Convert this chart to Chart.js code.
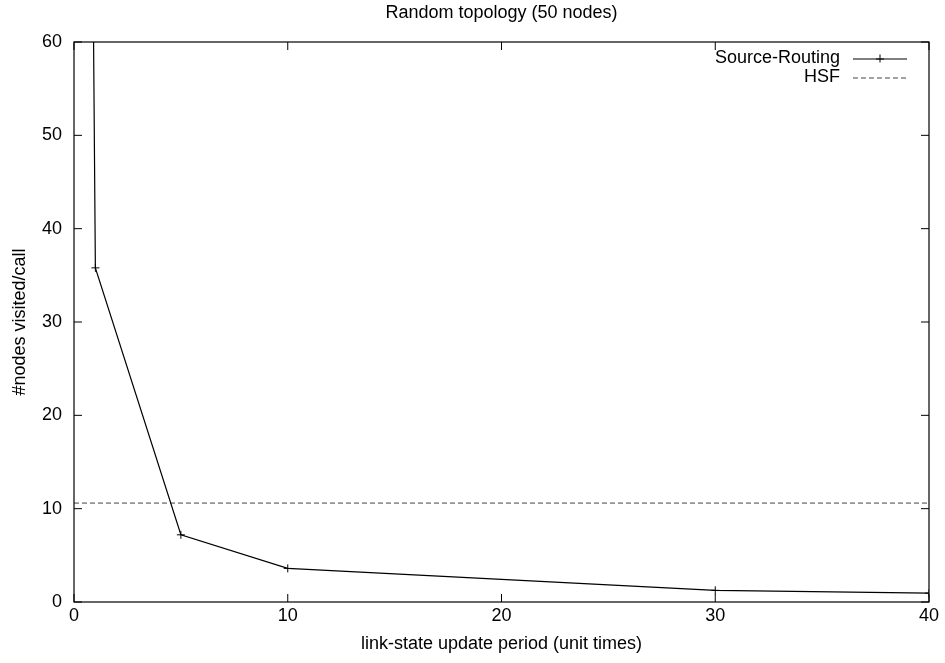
<!DOCTYPE html>
<html>
<head>
<meta charset="utf-8">
<script src="https://cdn.jsdelivr.net/npm/chart.js@4/dist/chart.umd.min.js"></script>
<style>
html,body{margin:0;padding:0;background:#fff;}
#wrap{width:945px;height:663px;}
</style>
</head>
<body>
<div id="wrap"><canvas id="c" width="945" height="663"></canvas></div>
<script>
const titleText = "Random topology (50 nodes)";
const xTitle = "link-state update period (unit times)";
const yTitle = "#nodes visited/call";
const updatePeriods = [0.5, 1, 5, 10, 30, 40];
const sourceRouting = [180, 35.8, 7.2, 3.6, 1.25, 0.95];
const hsfX = [0, 40];
const hsfY = [10.6, 10.6];
const xTicks = [0, 10, 20, 30, 40];
const yTicks = [0, 10, 20, 30, 40, 50, 60];

const FONT = "'Liberation Sans', Arial, Helvetica, sans-serif";
Chart.defaults.font.family = FONT;
Chart.defaults.font.size = 18;
Chart.defaults.color = '#000';

const framePlugin = {
  id: 'frame',
  afterDraw(chart) {
    const ctx = chart.ctx, a = chart.chartArea;
    const xs = chart.scales.x, ys = chart.scales.y;
    ctx.save();
    // title centred over the plot area
    ctx.font = "18px " + FONT;
    ctx.fillStyle = '#000';
    ctx.textAlign = 'center';
    ctx.textBaseline = 'middle';
    ctx.fillText(titleText, (a.left + a.right) / 2, 13.5);
    // frame
    ctx.strokeStyle = '#000';
    ctx.lineWidth = 1.2;
    ctx.strokeRect(a.left, a.top, a.right - a.left, a.bottom - a.top);
    const tl = 8;
    ctx.lineWidth = 1;
    ctx.beginPath();
    xTicks.forEach(v => {
      const px = xs.getPixelForValue(v);
      ctx.moveTo(px, a.bottom); ctx.lineTo(px, a.bottom - tl);
      ctx.moveTo(px, a.top); ctx.lineTo(px, a.top + tl);
    });
    yTicks.forEach(v => {
      const py = ys.getPixelForValue(v);
      ctx.moveTo(a.left, py); ctx.lineTo(a.left + tl, py);
      ctx.moveTo(a.right, py); ctx.lineTo(a.right - tl, py);
    });
    ctx.stroke();
    // legend
    const ds = chart.data.datasets;
    const textRight = 840, lx0 = 853, lx1 = 907;
    const rows = [58.5, 77.5];
    ctx.textAlign = 'right';
    ds.forEach((d, i) => {
      const y = rows[i];
      ctx.fillStyle = '#000';
      ctx.fillText(d.label, textRight, y);
      ctx.strokeStyle = d.borderColor;
      ctx.lineWidth = 1;
      ctx.setLineDash(d.borderDash || []);
      ctx.beginPath();
      ctx.moveTo(lx0, y + 0.5); ctx.lineTo(lx1, y + 0.5);
      ctx.stroke();
      ctx.setLineDash([]);
      if (d.pointRadius > 0) {
        const cx = (lx0 + lx1) / 2;
        ctx.beginPath();
        ctx.moveTo(cx - 4, y + 0.5); ctx.lineTo(cx + 4, y + 0.5);
        ctx.moveTo(cx, y - 4); ctx.lineTo(cx, y + 4);
        ctx.stroke();
      }
    });
    ctx.restore();
  }
};

new Chart(document.getElementById('c'), {
  type: 'line',
  data: {
    datasets: [
      {
        label: 'Source-Routing',
        data: updatePeriods.map((x, i) => ({x: x, y: sourceRouting[i]})),
        borderColor: '#000',
        backgroundColor: '#000',
        borderWidth: 1.2,
        pointStyle: 'cross',
        pointRadius: 4,
        pointBorderWidth: 1,
        pointHoverRadius: 4,
        tension: 0,
        fill: false
      },
      {
        label: 'HSF',
        data: hsfX.map((x, i) => ({x: x, y: hsfY[i]})),
        borderColor: '#444',
        borderWidth: 1,
        borderDash: [5, 3],
        pointRadius: 0,
        tension: 0,
        fill: false
      }
    ]
  },
  options: {
    responsive: false,
    animation: false,
    events: [],
    layout: { padding: { left: 0, right: 16, top: 42, bottom: 0 } },
    plugins: {
      legend: { display: false },
      tooltip: { enabled: false },
      title: { display: false }
    },
    scales: {
      x: {
        type: 'linear',
        position: 'bottom',
        min: 0, max: 40,
        afterBuildTicks(s) { s.ticks = xTicks.map(v => ({value: v})); },
        afterFit(s) { s.height = 61; },
        ticks: { padding: 3, color: '#000', font: { size: 18 } },
        grid: { display: false, drawTicks: false },
        border: { display: false },
        title: { display: true, text: xTitle, color: '#000', font: { size: 18 }, padding: { top: 0, bottom: 8 } }
      },
      y: {
        type: 'linear',
        position: 'left',
        min: 0, max: 60,
        afterBuildTicks(s) { s.ticks = yTicks.map(v => ({value: v})); },
        afterFit(s) { s.width = 74; },
        ticks: { padding: 12, color: '#000', font: { size: 18 } },
        grid: { display: false, drawTicks: false },
        border: { display: false },
        title: { display: true, text: yTitle, color: '#000', font: { size: 18 }, padding: { top: 9, bottom: 0 } }
      }
    }
  },
  plugins: [framePlugin]
});
</script>
</body>
</html>
